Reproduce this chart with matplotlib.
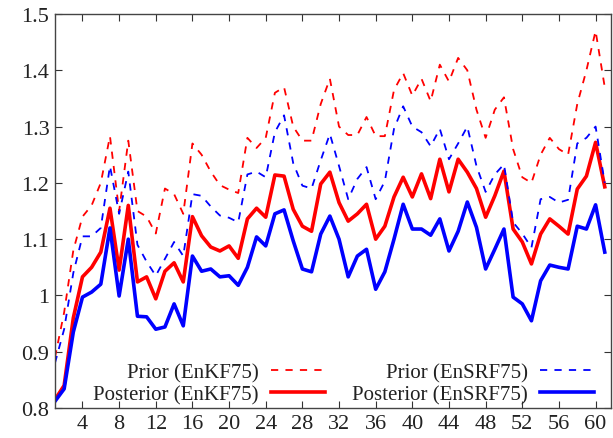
import matplotlib
matplotlib.use("Agg")
import matplotlib.pyplot as plt
from matplotlib.ticker import FormatStrFormatter, MultipleLocator

steps = list(range(1, 62))

prior_enkf = [0.89, 0.97, 1.08, 1.14, 1.16, 1.20, 1.283, 1.15, 1.275, 1.15,
              1.14, 1.11, 1.19, 1.18, 1.145, 1.27, 1.25, 1.22, 1.196, 1.188,
              1.182, 1.28, 1.262, 1.28, 1.36, 1.37, 1.30, 1.275, 1.275, 1.34,
              1.385, 1.30, 1.285, 1.285, 1.317, 1.283, 1.283, 1.365, 1.395, 1.355,
              1.385, 1.345, 1.41, 1.38, 1.422, 1.40, 1.33, 1.28, 1.33, 1.352,
              1.26, 1.21, 1.20, 1.25, 1.28, 1.26, 1.25, 1.34, 1.40, 1.47, 1.37]

post_enkf = [0.815, 0.84, 0.96, 1.033, 1.05, 1.077, 1.155, 1.045, 1.16, 1.024,
             1.033, 0.994, 1.043, 1.058, 1.024, 1.14, 1.106, 1.086, 1.079, 1.088,
             1.066, 1.136, 1.155, 1.139, 1.214, 1.212, 1.153, 1.123, 1.114, 1.198,
             1.219, 1.165, 1.132, 1.145, 1.162, 1.10, 1.123, 1.175, 1.21, 1.175,
             1.216, 1.172, 1.242, 1.184, 1.242, 1.219, 1.19, 1.139, 1.177, 1.221,
             1.118, 1.095, 1.056, 1.109, 1.136, 1.123, 1.109, 1.189, 1.212, 1.272, 1.193]

prior_ensrf = [0.88, 0.94, 1.04, 1.105, 1.105, 1.12, 1.23, 1.145, 1.22, 1.09,
               1.06, 1.035, 1.065, 1.095, 1.07, 1.18, 1.177, 1.158, 1.142, 1.138,
               1.13, 1.215, 1.22, 1.21, 1.29, 1.32, 1.235, 1.195, 1.19, 1.24,
               1.287, 1.23, 1.171, 1.207, 1.228, 1.171, 1.203, 1.296, 1.336, 1.30,
               1.29, 1.265, 1.296, 1.242, 1.27, 1.30, 1.23, 1.184, 1.215, 1.233,
               1.13, 1.11, 1.085, 1.171, 1.175, 1.165, 1.17, 1.27, 1.28, 1.30, 1.20]

post_ensrf = [0.812, 0.834, 0.935, 0.997, 1.006, 1.02, 1.12, 0.999, 1.10, 0.963,
              0.962, 0.94, 0.944, 0.985, 0.946, 1.07, 1.043, 1.047, 1.033, 1.035,
              1.018, 1.05, 1.104, 1.088, 1.145, 1.152, 1.097, 1.047, 1.042, 1.109,
              1.141, 1.10, 1.033, 1.07, 1.082, 1.011, 1.042, 1.10, 1.162, 1.118,
              1.118, 1.107, 1.136, 1.079, 1.114, 1.166, 1.121, 1.047, 1.082, 1.118,
              0.997, 0.985, 0.955, 1.026, 1.054, 1.05, 1.047, 1.123, 1.118, 1.161, 1.077]

labels = ["Prior (EnKF75)", "Posterior (EnKF75)", "Prior (EnSRF75)", "Posterior (EnSRF75)"]
xticks = list(range(4, 61, 4))

plt.rcParams['font.family'] = ['Liberation Serif', 'DejaVu Serif']

fig = plt.figure(figsize=(6.13, 4.39), dpi=100)
ax = fig.add_axes([0.0897, 0.0683, 0.9073, 0.8975])

red = '#ff0000'
blue = '#0000ff'
ax.plot(steps, prior_enkf, color=red, lw=1.3, dashes=(4, 4), label=labels[0])
ax.plot(steps, post_enkf, color=red, lw=2.6, label=labels[1])
ax.plot(steps, prior_ensrf, color=blue, lw=1.3, dashes=(4, 4), label=labels[2])
ax.plot(steps, post_ensrf, color=blue, lw=2.6, label=labels[3])

ax.set_xlim(1, 61.7)
ax.set_ylim(0.8, 1.5)
ax.set_xticks(xticks)
ax.yaxis.set_major_locator(MultipleLocator(0.1))
ax.yaxis.set_major_formatter(FormatStrFormatter('%g'))
ax.tick_params(direction='in', top=True, right=True, length=5, width=0.8,
               labelsize=16, colors='#333333', labelcolor='#222222', pad=4)
for s in ax.spines.values():
    s.set_color('#444444')
    s.set_linewidth(1.0)

leg = ax.legend(ncol=2, loc='lower right', frameon=False, markerfirst=False,
                fontsize=15, handlelength=2.6, columnspacing=1.3,
                labelspacing=0.12, borderaxespad=0.0, handletextpad=0.6,
                bbox_to_anchor=(0.985, -0.012))
for t in leg.get_texts():
    t.set_color('#222222')

fig.savefig('out.png', dpi=100)
